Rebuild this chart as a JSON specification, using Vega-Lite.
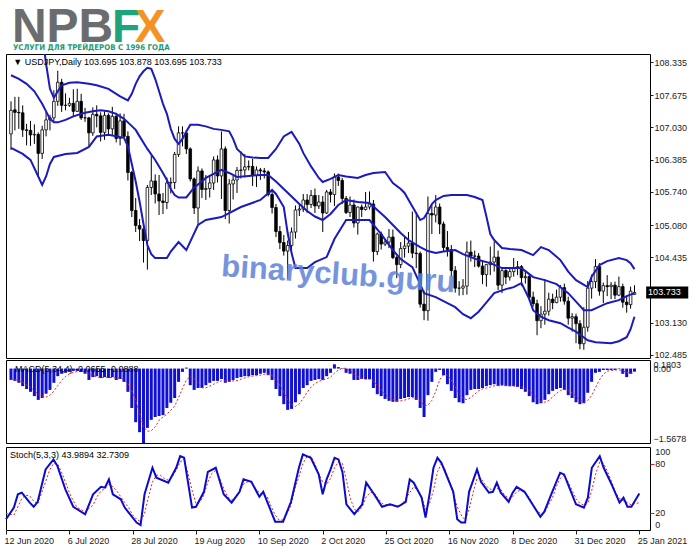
{
"$schema": "https://vega.github.io/schema/vega-lite/v6.json",
"padding": {"left": 1, "top": 0, "right": 0, "bottom": 0},
"background": "white",
"bounds": "flush",
"config": {"font": "Liberation Sans", "view": {"stroke": "black", "strokeWidth": 1}, "axis": {"labelOverlap": false, "labelBound": false}},
"datasets": {
"candles": [
{"i":0,"o":106.90,"h":107.55,"l":106.58,"c":107.37},{"i":1,"o":107.38,"h":107.64,"l":106.97,"c":107.33},{"i":2,"o":107.33,"h":107.64,"l":107.00,"c":107.32},{"i":3,"o":107.32,"h":107.47,"l":106.84,"c":106.98},{"i":4,"o":106.98,"h":107.10,"l":106.67,"c":106.97},{"i":5,"o":106.97,"h":107.16,"l":106.66,"c":106.88},{"i":6,"o":106.88,"h":107.09,"l":106.70,"c":106.89},{"i":7,"o":106.89,"h":106.93,"l":106.07,"c":106.51},{"i":8,"o":106.51,"h":107.06,"l":106.40,"c":106.98},{"i":9,"o":106.98,"h":107.34,"l":106.85,"c":107.18},
{"i":10,"o":107.18,"h":107.28,"l":106.97,"c":107.22},{"i":11,"o":107.22,"h":107.77,"l":107.15,"c":107.55},{"i":12,"o":107.55,"h":108.16,"l":107.46,"c":107.93},{"i":13,"o":107.93,"h":108.00,"l":107.34,"c":107.47},{"i":14,"o":107.47,"h":107.71,"l":107.37,"c":107.47},{"i":15,"o":107.47,"h":107.62,"l":107.44,"c":107.51},{"i":16,"o":107.51,"h":107.79,"l":107.24,"c":107.35},{"i":17,"o":107.35,"h":107.80,"l":107.34,"c":107.55},{"i":18,"o":107.55,"h":107.70,"l":107.18,"c":107.22},{"i":19,"o":107.22,"h":107.42,"l":107.14,"c":107.22},
{"i":20,"o":107.22,"h":107.24,"l":106.65,"c":106.92},{"i":21,"o":106.92,"h":107.43,"l":106.86,"c":107.29},{"i":22,"o":107.29,"h":107.47,"l":107.03,"c":107.26},{"i":23,"o":107.26,"h":107.33,"l":106.75,"c":106.93},{"i":24,"o":106.93,"h":107.35,"l":106.78,"c":107.27},{"i":25,"o":107.27,"h":107.31,"l":106.86,"c":107.00},{"i":26,"o":107.00,"h":107.44,"l":106.87,"c":107.25},{"i":27,"o":107.25,"h":107.32,"l":106.73,"c":106.81},{"i":28,"o":106.81,"h":107.31,"l":106.67,"c":107.16},{"i":29,"o":107.16,"h":107.30,"l":106.83,"c":106.85},
{"i":30,"o":106.85,"h":106.95,"l":105.97,"c":106.13},{"i":31,"o":106.13,"h":106.16,"l":105.24,"c":105.37},{"i":32,"o":105.37,"h":105.62,"l":104.94,"c":105.07},{"i":33,"o":105.07,"h":105.20,"l":104.76,"c":105.00},{"i":34,"o":105.00,"h":105.06,"l":104.33,"c":104.77},{"i":35,"o":104.77,"h":105.88,"l":104.19,"c":105.83},{"i":36,"o":105.83,"h":106.47,"l":105.68,"c":105.96},{"i":37,"o":105.96,"h":106.09,"l":105.51,"c":105.70},{"i":38,"o":105.70,"h":106.08,"l":105.28,"c":105.56},{"i":39,"o":105.56,"h":105.72,"l":105.30,"c":105.53},
{"i":40,"o":105.53,"h":106.03,"l":105.40,"c":105.92},{"i":41,"o":105.92,"h":106.03,"l":105.71,"c":105.93},{"i":42,"o":105.93,"h":106.54,"l":105.80,"c":106.49},{"i":43,"o":106.49,"h":107.05,"l":106.44,"c":106.92},{"i":44,"o":106.92,"h":107.05,"l":106.65,"c":106.92},{"i":45,"o":106.92,"h":106.98,"l":106.50,"c":106.60},{"i":46,"o":106.60,"h":106.63,"l":105.95,"c":106.00},{"i":47,"o":106.00,"h":106.03,"l":105.30,"c":105.42},{"i":48,"o":105.42,"h":106.25,"l":105.10,"c":106.16},{"i":49,"o":106.16,"h":106.21,"l":105.62,"c":105.79},
{"i":50,"o":105.79,"h":106.08,"l":105.58,"c":105.81},{"i":51,"o":105.81,"h":106.06,"l":105.63,"c":105.92},{"i":52,"o":105.92,"h":106.45,"l":105.78,"c":106.38},{"i":53,"o":106.38,"h":106.47,"l":105.93,"c":106.06},{"i":54,"o":106.06,"h":106.95,"l":105.60,"c":106.60},{"i":55,"o":106.60,"h":106.65,"l":105.20,"c":105.37},{"i":56,"o":105.37,"h":106.00,"l":105.11,"c":105.90},{"i":57,"o":105.90,"h":106.07,"l":105.59,"c":105.98},{"i":58,"o":105.98,"h":106.24,"l":105.72,"c":106.17},{"i":59,"o":106.17,"h":106.55,"l":106.01,"c":106.18},
{"i":60,"o":106.18,"h":106.50,"l":106.03,"c":106.24},{"i":61,"o":106.24,"h":106.37,"l":106.17,"c":106.25},{"i":62,"o":106.25,"h":106.40,"l":105.86,"c":106.07},{"i":63,"o":106.07,"h":106.25,"l":105.84,"c":106.18},{"i":64,"o":106.18,"h":106.22,"l":105.98,"c":106.16},{"i":65,"o":106.16,"h":106.22,"l":106.01,"c":106.14},{"i":66,"o":106.14,"h":106.17,"l":105.65,"c":105.69},{"i":67,"o":105.69,"h":105.79,"l":105.31,"c":105.43},{"i":68,"o":105.43,"h":105.50,"l":104.84,"c":104.95},{"i":69,"o":104.95,"h":105.06,"l":104.60,"c":104.73},
{"i":70,"o":104.73,"h":104.88,"l":104.47,"c":104.56},{"i":71,"o":104.56,"h":104.77,"l":104.00,"c":104.67},{"i":72,"o":104.67,"h":105.03,"l":104.49,"c":104.94},{"i":73,"o":104.94,"h":105.47,"l":104.81,"c":105.38},{"i":74,"o":105.38,"h":105.49,"l":105.26,"c":105.40},{"i":75,"o":105.40,"h":105.70,"l":105.34,"c":105.58},{"i":76,"o":105.58,"h":105.70,"l":105.32,"c":105.49},{"i":77,"o":105.49,"h":105.78,"l":105.42,"c":105.67},{"i":78,"o":105.67,"h":105.81,"l":105.32,"c":105.46},{"i":79,"o":105.46,"h":105.68,"l":105.40,"c":105.54},
{"i":80,"o":105.54,"h":105.66,"l":104.94,"c":105.32},{"i":81,"o":105.32,"h":105.78,"l":105.30,"c":105.74},{"i":82,"o":105.74,"h":105.80,"l":105.53,"c":105.69},{"i":83,"o":105.69,"h":106.11,"l":105.46,"c":106.04},{"i":84,"o":106.04,"h":106.11,"l":105.86,"c":105.97},{"i":85,"o":105.97,"h":106.02,"l":105.50,"c":105.61},{"i":86,"o":105.61,"h":105.66,"l":105.30,"c":105.33},{"i":87,"o":105.33,"h":105.65,"l":105.24,"c":105.48},{"i":88,"o":105.48,"h":105.59,"l":105.03,"c":105.12},{"i":89,"o":105.12,"h":105.45,"l":104.89,"c":105.44},
{"i":90,"o":105.44,"h":105.49,"l":105.24,"c":105.39},{"i":91,"o":105.39,"h":105.74,"l":105.37,"c":105.44},{"i":92,"o":105.44,"h":105.75,"l":105.39,"c":105.50},{"i":93,"o":105.50,"h":105.58,"l":104.35,"c":104.55},{"i":94,"o":104.55,"h":104.93,"l":104.48,"c":104.90},{"i":95,"o":104.90,"h":104.95,"l":104.59,"c":104.70},{"i":96,"o":104.70,"h":104.78,"l":104.66,"c":104.74},{"i":97,"o":104.74,"h":105.00,"l":104.62,"c":104.84},{"i":98,"o":104.84,"h":104.99,"l":104.40,"c":104.43},{"i":99,"o":104.43,"h":104.47,"l":104.02,"c":104.29},
{"i":100,"o":104.29,"h":104.74,"l":104.22,"c":104.61},{"i":101,"o":104.61,"h":104.86,"l":104.43,"c":104.66},{"i":102,"o":104.66,"h":104.94,"l":104.52,"c":104.72},{"i":103,"o":104.72,"h":105.35,"l":104.42,"c":104.52},{"i":104,"o":104.52,"h":105.34,"l":104.22,"c":104.51},{"i":105,"o":104.51,"h":104.55,"l":103.43,"c":103.50},{"i":106,"o":103.50,"h":103.77,"l":103.18,"c":103.37},{"i":107,"o":103.37,"h":105.65,"l":103.17,"c":105.31},{"i":108,"o":105.31,"h":105.48,"l":104.90,"c":105.28},{"i":109,"o":105.28,"h":105.68,"l":105.13,"c":105.44},
{"i":110,"o":105.44,"h":105.51,"l":104.90,"c":105.10},{"i":111,"o":105.10,"h":105.15,"l":104.55,"c":104.63},{"i":112,"o":104.63,"h":104.96,"l":104.45,"c":104.59},{"i":113,"o":104.59,"h":104.68,"l":104.06,"c":104.17},{"i":114,"o":104.17,"h":104.26,"l":103.73,"c":103.82},{"i":115,"o":103.82,"h":103.96,"l":103.67,"c":103.82},{"i":116,"o":103.82,"h":104.00,"l":103.68,"c":103.86},{"i":117,"o":103.86,"h":104.75,"l":103.69,"c":104.54},{"i":118,"o":104.54,"h":104.77,"l":104.35,"c":104.46},{"i":119,"o":104.46,"h":104.57,"l":104.24,"c":104.46},
{"i":120,"o":104.46,"h":104.52,"l":104.23,"c":104.26},{"i":121,"o":104.26,"h":104.35,"l":103.90,"c":104.09},{"i":122,"o":104.09,"h":104.29,"l":103.85,"c":104.29},{"i":123,"o":104.29,"h":104.65,"l":104.08,"c":104.34},{"i":124,"o":104.34,"h":104.75,"l":104.15,"c":104.44},{"i":125,"o":104.44,"h":104.57,"l":103.78,"c":103.88},{"i":126,"o":103.88,"h":104.23,"l":103.72,"c":104.17},{"i":127,"o":104.17,"h":104.20,"l":103.90,"c":104.04},{"i":128,"o":104.04,"h":104.24,"l":103.97,"c":104.15},{"i":129,"o":104.15,"h":104.42,"l":104.05,"c":104.22},
{"i":130,"o":104.22,"h":104.36,"l":104.08,"c":104.25},{"i":131,"o":104.25,"h":104.28,"l":103.86,"c":104.03},{"i":132,"o":104.03,"h":104.16,"l":103.91,"c":104.05},{"i":133,"o":104.05,"h":104.12,"l":103.57,"c":103.64},{"i":134,"o":103.64,"h":103.75,"l":103.45,"c":103.51},{"i":135,"o":103.51,"h":103.59,"l":102.88,"c":103.17},{"i":136,"o":103.17,"h":103.46,"l":103.02,"c":103.30},{"i":137,"o":103.30,"h":104.00,"l":103.09,"c":103.36},{"i":138,"o":103.36,"h":103.73,"l":103.27,"c":103.60},{"i":139,"o":103.60,"h":103.71,"l":103.40,"c":103.53},
{"i":140,"o":103.53,"h":103.79,"l":103.52,"c":103.64},{"i":141,"o":103.64,"h":103.88,"l":103.55,"c":103.83},{"i":142,"o":103.83,"h":103.91,"l":103.49,"c":103.56},{"i":143,"o":103.56,"h":103.65,"l":103.09,"c":103.22},{"i":144,"o":103.22,"h":103.32,"l":102.95,"c":103.25},{"i":145,"o":103.25,"h":103.31,"l":102.72,"c":103.11},{"i":146,"o":103.11,"h":103.18,"l":102.60,"c":102.71},{"i":147,"o":102.71,"h":103.44,"l":102.59,"c":103.04},{"i":148,"o":103.04,"h":103.96,"l":102.95,"c":103.82},{"i":149,"o":103.82,"h":104.09,"l":103.61,"c":103.95},
{"i":150,"o":103.95,"h":104.40,"l":103.82,"c":104.25},{"i":151,"o":104.25,"h":104.32,"l":103.67,"c":103.76},{"i":152,"o":103.76,"h":103.93,"l":103.52,"c":103.87},{"i":153,"o":103.87,"h":104.08,"l":103.66,"c":103.85},{"i":154,"o":103.85,"h":103.94,"l":103.60,"c":103.88},{"i":155,"o":103.88,"h":103.95,"l":103.60,"c":103.68},{"i":156,"o":103.68,"h":104.05,"l":103.66,"c":103.85},{"i":157,"o":103.85,"h":103.91,"l":103.43,"c":103.54},{"i":158,"o":103.54,"h":103.66,"l":103.33,"c":103.49},{"i":159,"o":103.49,"h":103.85,"l":103.41,"c":103.76},
{"i":160,"o":103.695,"h":103.878,"l":103.695,"c":103.733}
],
"bands": [
{"b":"u","i":0,"p":109.6},{"b":"u","i":6,"p":109.5},{"b":"u","i":8,"p":108.9},{"b":"u","i":9,"p":108.3},{"b":"u","i":10,"p":107.8},{"b":"u","i":11,"p":107.62},{"b":"u","i":12,"p":107.75},{"b":"u","i":13,"p":107.87},{"b":"u","i":15,"p":107.92},{"b":"u","i":17,"p":107.93},{"b":"u","i":20,"p":107.9},{"b":"u","i":22,"p":107.87},{"b":"u","i":25,"p":107.8},{"b":"u","i":28,"p":107.65},{"b":"u","i":30,"p":107.57},{"b":"u","i":31,"p":107.7},{"b":"u","i":32,"p":107.9},{"b":"u","i":33,"p":108.05},{"b":"u","i":34,"p":108.15},{"b":"u","i":35,"p":108.22},{"b":"u","i":36,"p":108.2},{"b":"u","i":37,"p":108.0},{"b":"u","i":38,"p":107.75},{"b":"u","i":39,"p":107.5},{"b":"u","i":40,"p":107.3},{"b":"u","i":41,"p":107.0},{"b":"u","i":42,"p":106.8},{"b":"u","i":43,"p":106.7},{"b":"u","i":44,"p":106.8},{"b":"u","i":45,"p":106.95},{"b":"u","i":46,"p":107.08},{"b":"u","i":48,"p":107.08},{"b":"u","i":50,"p":107.05},{"b":"u","i":52,"p":107.0},{"b":"u","i":54,"p":106.98},{"b":"u","i":56,"p":106.95},{"b":"u","i":57,"p":106.8},{"b":"u","i":58,"p":106.6},{"b":"u","i":60,"p":106.45},{"b":"u","i":62,"p":106.43},{"b":"u","i":64,"p":106.42},{"b":"u","i":66,"p":106.42},{"b":"u","i":68,"p":106.6},{"b":"u","i":70,"p":106.85},{"b":"u","i":72,"p":106.94},{"b":"u","i":74,"p":106.7},{"b":"u","i":75,"p":106.52},{"b":"u","i":77,"p":106.25},{"b":"u","i":79,"p":106.02},{"b":"u","i":80,"p":105.94},{"b":"u","i":82,"p":106.0},{"b":"u","i":84,"p":106.08},{"b":"u","i":86,"p":106.05},{"b":"u","i":89,"p":106.02},{"b":"u","i":91,"p":106.08},{"b":"u","i":93,"p":106.12},{"b":"u","i":96,"p":106.14},{"b":"u","i":98,"p":105.92},{"b":"u","i":100,"p":105.8},{"b":"u","i":101,"p":105.72},{"b":"u","i":103,"p":105.45},{"b":"u","i":105,"p":105.18},{"b":"u","i":106,"p":105.22},{"b":"u","i":107,"p":105.35},{"b":"u","i":108,"p":105.5},{"b":"u","i":109,"p":105.58},{"b":"u","i":111,"p":105.66},{"b":"u","i":113,"p":105.68},{"b":"u","i":117,"p":105.68},{"b":"u","i":119,"p":105.64},{"b":"u","i":121,"p":105.58},{"b":"u","i":122,"p":105.25},{"b":"u","i":123,"p":104.9},{"b":"u","i":124,"p":104.78},{"b":"u","i":126,"p":104.62},{"b":"u","i":128,"p":104.6},{"b":"u","i":131,"p":104.58},{"b":"u","i":134,"p":104.48},{"b":"u","i":136,"p":104.64},{"b":"u","i":138,"p":104.58},{"b":"u","i":141,"p":104.38},{"b":"u","i":143,"p":104.15},{"b":"u","i":145,"p":103.98},{"b":"u","i":148,"p":103.84},{"b":"u","i":149,"p":104.05},{"b":"u","i":151,"p":104.28},{"b":"u","i":153,"p":104.36},{"b":"u","i":156,"p":104.42},{"b":"u","i":158,"p":104.38},{"b":"u","i":159,"p":104.32},{"b":"u","i":160,"p":104.2},
{"b":"m","i":0,"p":108.07},{"b":"m","i":2,"p":108.0},{"b":"m","i":4,"p":107.9},{"b":"m","i":6,"p":107.75},{"b":"m","i":8,"p":107.5},{"b":"m","i":9,"p":107.35},{"b":"m","i":10,"p":107.2},{"b":"m","i":11,"p":107.13},{"b":"m","i":12,"p":107.13},{"b":"m","i":14,"p":107.18},{"b":"m","i":16,"p":107.25},{"b":"m","i":19,"p":107.32},{"b":"m","i":21,"p":107.35},{"b":"m","i":23,"p":107.37},{"b":"m","i":25,"p":107.35},{"b":"m","i":27,"p":107.3},{"b":"m","i":29,"p":107.2},{"b":"m","i":30,"p":107.13},{"b":"m","i":32,"p":106.98},{"b":"m","i":33,"p":106.85},{"b":"m","i":35,"p":106.6},{"b":"m","i":37,"p":106.38},{"b":"m","i":39,"p":106.12},{"b":"m","i":40,"p":105.98},{"b":"m","i":41,"p":105.8},{"b":"m","i":42,"p":105.68},{"b":"m","i":43,"p":105.63},{"b":"m","i":45,"p":105.63},{"b":"m","i":47,"p":105.83},{"b":"m","i":49,"p":105.95},{"b":"m","i":50,"p":106.02},{"b":"m","i":52,"p":106.1},{"b":"m","i":54,"p":106.18},{"b":"m","i":56,"p":106.12},{"b":"m","i":58,"p":106.04},{"b":"m","i":61,"p":106.06},{"b":"m","i":64,"p":106.08},{"b":"m","i":66,"p":106.08},{"b":"m","i":68,"p":105.95},{"b":"m","i":70,"p":105.8},{"b":"m","i":72,"p":105.65},{"b":"m","i":74,"p":105.5},{"b":"m","i":76,"p":105.36},{"b":"m","i":78,"p":105.25},{"b":"m","i":80,"p":105.18},{"b":"m","i":82,"p":105.3},{"b":"m","i":84,"p":105.48},{"b":"m","i":86,"p":105.58},{"b":"m","i":89,"p":105.54},{"b":"m","i":92,"p":105.52},{"b":"m","i":94,"p":105.38},{"b":"m","i":96,"p":105.24},{"b":"m","i":98,"p":105.08},{"b":"m","i":100,"p":104.92},{"b":"m","i":102,"p":104.78},{"b":"m","i":105,"p":104.64},{"b":"m","i":107,"p":104.56},{"b":"m","i":109,"p":104.52},{"b":"m","i":111,"p":104.55},{"b":"m","i":114,"p":104.58},{"b":"m","i":116,"p":104.5},{"b":"m","i":118,"p":104.44},{"b":"m","i":120,"p":104.38},{"b":"m","i":123,"p":104.32},{"b":"m","i":126,"p":104.22},{"b":"m","i":131,"p":104.22},{"b":"m","i":134,"p":104.04},{"b":"m","i":137,"p":103.98},{"b":"m","i":140,"p":103.9},{"b":"m","i":143,"p":103.72},{"b":"m","i":145,"p":103.55},{"b":"m","i":147,"p":103.38},{"b":"m","i":149,"p":103.38},{"b":"m","i":151,"p":103.45},{"b":"m","i":153,"p":103.52},{"b":"m","i":156,"p":103.58},{"b":"m","i":158,"p":103.66},{"b":"m","i":160,"p":103.72},
{"b":"l","i":0,"p":106.62},{"b":"l","i":3,"p":106.5},{"b":"l","i":5,"p":106.38},{"b":"l","i":7,"p":106.05},{"b":"l","i":8,"p":105.88},{"b":"l","i":9,"p":106.05},{"b":"l","i":10,"p":106.3},{"b":"l","i":11,"p":106.44},{"b":"l","i":14,"p":106.5},{"b":"l","i":17,"p":106.52},{"b":"l","i":20,"p":106.64},{"b":"l","i":22,"p":106.85},{"b":"l","i":25,"p":106.88},{"b":"l","i":29,"p":106.82},{"b":"l","i":30,"p":106.65},{"b":"l","i":31,"p":106.3},{"b":"l","i":32,"p":105.95},{"b":"l","i":33,"p":105.55},{"b":"l","i":34,"p":105.1},{"b":"l","i":35,"p":104.68},{"b":"l","i":36,"p":104.5},{"b":"l","i":37,"p":104.42},{"b":"l","i":40,"p":104.42},{"b":"l","i":41,"p":104.55},{"b":"l","i":43,"p":104.74},{"b":"l","i":45,"p":104.58},{"b":"l","i":46,"p":104.75},{"b":"l","i":48,"p":105.08},{"b":"l","i":50,"p":105.18},{"b":"l","i":54,"p":105.24},{"b":"l","i":59,"p":105.44},{"b":"l","i":64,"p":105.58},{"b":"l","i":67,"p":105.78},{"b":"l","i":68,"p":105.7},{"b":"l","i":70,"p":105.44},{"b":"l","i":71,"p":104.92},{"b":"l","i":72,"p":104.52},{"b":"l","i":73,"p":104.22},{"b":"l","i":76,"p":104.22},{"b":"l","i":78,"p":104.34},{"b":"l","i":81,"p":104.44},{"b":"l","i":83,"p":104.8},{"b":"l","i":86,"p":105.18},{"b":"l","i":92,"p":105.18},{"b":"l","i":95,"p":104.9},{"b":"l","i":98,"p":104.58},{"b":"l","i":100,"p":104.4},{"b":"l","i":103,"p":104.24},{"b":"l","i":105,"p":103.9},{"b":"l","i":106,"p":103.72},{"b":"l","i":109,"p":103.64},{"b":"l","i":112,"p":103.52},{"b":"l","i":114,"p":103.44},{"b":"l","i":116,"p":103.3},{"b":"l","i":118,"p":103.22},{"b":"l","i":120,"p":103.35},{"b":"l","i":121,"p":103.44},{"b":"l","i":124,"p":103.72},{"b":"l","i":127,"p":103.8},{"b":"l","i":129,"p":103.84},{"b":"l","i":131,"p":103.92},{"b":"l","i":133,"p":103.6},{"b":"l","i":134,"p":103.38},{"b":"l","i":136,"p":103.25},{"b":"l","i":138,"p":103.18},{"b":"l","i":141,"p":103.12},{"b":"l","i":143,"p":103.03},{"b":"l","i":145,"p":102.95},{"b":"l","i":148,"p":102.78},{"b":"l","i":150,"p":102.74},{"b":"l","i":154,"p":102.72},{"b":"l","i":156,"p":102.76},{"b":"l","i":158,"p":102.84},{"b":"l","i":159,"p":103.0},{"b":"l","i":160,"p":103.25}
],
"macd": [
{"i":0,"v":-0.24},{"i":1,"v":-0.26},{"i":2,"v":-0.30},{"i":3,"v":-0.37},{"i":4,"v":-0.43},{"i":5,"v":-0.49},{"i":6,"v":-0.58},{"i":7,"v":-0.66},{"i":8,"v":-0.62},{"i":9,"v":-0.53},{"i":10,"v":-0.45},{"i":11,"v":-0.30},{"i":12,"v":-0.16},{"i":13,"v":-0.11},{"i":14,"v":-0.09},{"i":15,"v":-0.07},{"i":16,"v":-0.05},{"i":17,"v":-0.05},{"i":18,"v":-0.07},{"i":19,"v":-0.11},{"i":20,"v":-0.24},{"i":21,"v":-0.18},{"i":22,"v":-0.16},{"i":23,"v":-0.20},{"i":24,"v":-0.18},{"i":25,"v":-0.20},{"i":26,"v":-0.18},{"i":27,"v":-0.24},{"i":28,"v":-0.22},{"i":29,"v":-0.28},{"i":30,"v":-0.49},{"i":31,"v":-0.83},{"i":32,"v":-1.13},{"i":33,"v":-1.34},{"i":34,"v":-1.5678},{"i":35,"v":-1.25},{"i":36,"v":-1.08},{"i":37,"v":-1.02},{"i":38,"v":-1.00},{"i":39,"v":-0.98},{"i":40,"v":-0.83},{"i":41,"v":-0.72},{"i":42,"v":-0.62},{"i":43,"v":-0.28},{"i":44,"v":-0.07},{"i":45,"v":0.02},{"i":46,"v":-0.35},{"i":47,"v":-0.45},{"i":48,"v":-0.41},{"i":49,"v":-0.41},{"i":50,"v":-0.35},{"i":51,"v":-0.30},{"i":52,"v":-0.26},{"i":53,"v":-0.26},{"i":54,"v":-0.22},{"i":55,"v":-0.30},{"i":56,"v":-0.28},{"i":57,"v":-0.24},{"i":58,"v":-0.20},{"i":59,"v":-0.18},{"i":60,"v":-0.16},{"i":61,"v":-0.16},{"i":62,"v":-0.14},{"i":63,"v":-0.14},{"i":64,"v":-0.11},{"i":65,"v":-0.09},{"i":66,"v":-0.14},{"i":67,"v":-0.24},{"i":68,"v":-0.43},{"i":69,"v":-0.58},{"i":70,"v":-0.75},{"i":71,"v":-0.87},{"i":72,"v":-0.85},{"i":73,"v":-0.71},{"i":74,"v":-0.54},{"i":75,"v":-0.41},{"i":76,"v":-0.35},{"i":77,"v":-0.26},{"i":78,"v":-0.24},{"i":79,"v":-0.22},{"i":80,"v":-0.24},{"i":81,"v":-0.16},{"i":82,"v":-0.09},{"i":83,"v":0.09},{"i":84,"v":0.03},{"i":85,"v":-0.01},{"i":86,"v":-0.09},{"i":87,"v":-0.11},{"i":88,"v":-0.24},{"i":89,"v":-0.24},{"i":90,"v":-0.22},{"i":91,"v":-0.22},{"i":92,"v":-0.22},{"i":93,"v":-0.41},{"i":94,"v":-0.54},{"i":95,"v":-0.58},{"i":96,"v":-0.64},{"i":97,"v":-0.68},{"i":98,"v":-0.70},{"i":99,"v":-0.70},{"i":100,"v":-0.64},{"i":101,"v":-0.62},{"i":102,"v":-0.60},{"i":103,"v":-0.60},{"i":104,"v":-0.66},{"i":105,"v":-0.83},{"i":106,"v":-1.02},{"i":107,"v":-0.56},{"i":108,"v":-0.28},{"i":109,"v":-0.07},{"i":110,"v":-0.03},{"i":111,"v":-0.14},{"i":112,"v":-0.33},{"i":113,"v":-0.47},{"i":114,"v":-0.62},{"i":115,"v":-0.71},{"i":116,"v":-0.73},{"i":117,"v":-0.56},{"i":118,"v":-0.45},{"i":119,"v":-0.43},{"i":120,"v":-0.43},{"i":121,"v":-0.41},{"i":122,"v":-0.37},{"i":123,"v":-0.35},{"i":124,"v":-0.33},{"i":125,"v":-0.37},{"i":126,"v":-0.35},{"i":127,"v":-0.37},{"i":128,"v":-0.37},{"i":129,"v":-0.37},{"i":130,"v":-0.39},{"i":131,"v":-0.43},{"i":132,"v":-0.49},{"i":133,"v":-0.58},{"i":134,"v":-0.71},{"i":135,"v":-0.75},{"i":136,"v":-0.73},{"i":137,"v":-0.66},{"i":138,"v":-0.54},{"i":139,"v":-0.47},{"i":140,"v":-0.43},{"i":141,"v":-0.41},{"i":142,"v":-0.45},{"i":143,"v":-0.56},{"i":144,"v":-0.62},{"i":145,"v":-0.71},{"i":146,"v":-0.75},{"i":147,"v":-0.73},{"i":148,"v":-0.51},{"i":149,"v":-0.28},{"i":150,"v":-0.09},{"i":151,"v":-0.07},{"i":152,"v":-0.03},{"i":153,"v":-0.03},{"i":154,"v":-0.03},{"i":155,"v":-0.03},{"i":156,"v":-0.01},{"i":157,"v":-0.11},{"i":158,"v":-0.18},{"i":159,"v":-0.11},{"i":160,"v":-0.0655}
],
"signal": [
{"i":0,"s":-0.22},{"i":1,"s":-0.23},{"i":2,"s":-0.26},{"i":3,"s":-0.29},{"i":4,"s":-0.34},{"i":5,"s":-0.40},{"i":6,"s":-0.47},{"i":7,"s":-0.54},{"i":8,"s":-0.59},{"i":9,"s":-0.60},{"i":10,"s":-0.565},{"i":11,"s":-0.475},{"i":12,"s":-0.36},{"i":13,"s":-0.255},{"i":14,"s":-0.165},{"i":15,"s":-0.11},{"i":16,"s":-0.08},{"i":17,"s":-0.065},{"i":18,"s":-0.06},{"i":19,"s":-0.07},{"i":20,"s":-0.12},{"i":21,"s":-0.15},{"i":22,"s":-0.17},{"i":23,"s":-0.195},{"i":24,"s":-0.18},{"i":25,"s":-0.185},{"i":26,"s":-0.19},{"i":27,"s":-0.20},{"i":28,"s":-0.21},{"i":29,"s":-0.23},{"i":30,"s":-0.31},{"i":31,"s":-0.455},{"i":32,"s":-0.68},{"i":33,"s":-0.95},{"i":34,"s":-1.22},{"i":35,"s":-1.32},{"i":36,"s":-1.31},{"i":37,"s":-1.23},{"i":38,"s":-1.09},{"i":39,"s":-1.02},{"i":40,"s":-0.96},{"i":41,"s":-0.88},{"i":42,"s":-0.79},{"i":43,"s":-0.61},{"i":44,"s":-0.42},{"i":45,"s":-0.24},{"i":46,"s":-0.17},{"i":47,"s":-0.21},{"i":48,"s":-0.30},{"i":49,"s":-0.405},{"i":50,"s":-0.405},{"i":51,"s":-0.37},{"i":52,"s":-0.33},{"i":53,"s":-0.29},{"i":54,"s":-0.26},{"i":55,"s":-0.26},{"i":56,"s":-0.265},{"i":57,"s":-0.26},{"i":58,"s":-0.255},{"i":59,"s":-0.225},{"i":60,"s":-0.195},{"i":61,"s":-0.175},{"i":62,"s":-0.16},{"i":63,"s":-0.15},{"i":64,"s":-0.14},{"i":65,"s":-0.12},{"i":66,"s":-0.12},{"i":67,"s":-0.145},{"i":68,"s":-0.225},{"i":69,"s":-0.35},{"i":70,"s":-0.50},{"i":71,"s":-0.66},{"i":72,"s":-0.76},{"i":73,"s":-0.795},{"i":74,"s":-0.74},{"i":75,"s":-0.63},{"i":76,"s":-0.50},{"i":77,"s":-0.39},{"i":78,"s":-0.315},{"i":79,"s":-0.27},{"i":80,"s":-0.24},{"i":81,"s":-0.215},{"i":82,"s":-0.18},{"i":83,"s":-0.10},{"i":84,"s":-0.03},{"i":85,"s":0.005},{"i":86,"s":0.005},{"i":87,"s":-0.05},{"i":88,"s":-0.11},{"i":89,"s":-0.17},{"i":90,"s":-0.20},{"i":91,"s":-0.23},{"i":92,"s":-0.225},{"i":93,"s":-0.27},{"i":94,"s":-0.35},{"i":95,"s":-0.44},{"i":96,"s":-0.54},{"i":97,"s":-0.61},{"i":98,"s":-0.65},{"i":99,"s":-0.68},{"i":100,"s":-0.68},{"i":101,"s":-0.665},{"i":102,"s":-0.64},{"i":103,"s":-0.615},{"i":104,"s":-0.62},{"i":105,"s":-0.67},{"i":106,"s":-0.78},{"i":107,"s":-0.77},{"i":108,"s":-0.67},{"i":109,"s":-0.48},{"i":110,"s":-0.235},{"i":111,"s":-0.13},{"i":112,"s":-0.14},{"i":113,"s":-0.24},{"i":114,"s":-0.39},{"i":115,"s":-0.53},{"i":116,"s":-0.63},{"i":117,"s":-0.655},{"i":118,"s":-0.61},{"i":119,"s":-0.54},{"i":120,"s":-0.47},{"i":121,"s":-0.43},{"i":122,"s":-0.41},{"i":123,"s":-0.39},{"i":124,"s":-0.365},{"i":125,"s":-0.355},{"i":126,"s":-0.35},{"i":127,"s":-0.355},{"i":128,"s":-0.365},{"i":129,"s":-0.365},{"i":130,"s":-0.375},{"i":131,"s":-0.39},{"i":132,"s":-0.42},{"i":133,"s":-0.47},{"i":134,"s":-0.55},{"i":135,"s":-0.63},{"i":136,"s":-0.69},{"i":137,"s":-0.71},{"i":138,"s":-0.67},{"i":139,"s":-0.60},{"i":140,"s":-0.525},{"i":141,"s":-0.46},{"i":142,"s":-0.44},{"i":143,"s":-0.46},{"i":144,"s":-0.51},{"i":145,"s":-0.585},{"i":146,"s":-0.66},{"i":147,"s":-0.70},{"i":148,"s":-0.675},{"i":149,"s":-0.57},{"i":150,"s":-0.40},{"i":151,"s":-0.24},{"i":152,"s":-0.12},{"i":153,"s":-0.055},{"i":154,"s":-0.04},{"i":155,"s":-0.03},{"i":156,"s":-0.025},{"i":157,"s":-0.045},{"i":158,"s":-0.08},{"i":159,"s":-0.10},{"i":160,"s":-0.0888}
],
"stochK": [
{"i":0,"v":13},{"i":2,"v":27},{"i":3,"v":43},{"i":4,"v":45},{"i":6,"v":33},{"i":7,"v":28},{"i":8,"v":34},{"i":10,"v":73},{"i":12,"v":85},{"i":13,"v":77},{"i":15,"v":49},{"i":17,"v":28},{"i":20,"v":19},{"i":22,"v":43},{"i":24,"v":52},{"i":25,"v":51},{"i":26,"v":61},{"i":27,"v":43},{"i":29,"v":37},{"i":30,"v":27},{"i":31,"v":21},{"i":33,"v":9},{"i":34,"v":6},{"i":35,"v":43},{"i":37,"v":75},{"i":38,"v":63},{"i":41,"v":57},{"i":43,"v":75},{"i":44,"v":89},{"i":45,"v":87},{"i":47,"v":27},{"i":48,"v":28},{"i":50,"v":46},{"i":51,"v":70},{"i":53,"v":75},{"i":55,"v":43},{"i":57,"v":33},{"i":59,"v":46},{"i":60,"v":61},{"i":62,"v":58},{"i":64,"v":40},{"i":65,"v":46},{"i":66,"v":34},{"i":68,"v":10},{"i":70,"v":10},{"i":72,"v":34},{"i":74,"v":75},{"i":75,"v":91},{"i":76,"v":89},{"i":77,"v":87},{"i":79,"v":67},{"i":80,"v":43},{"i":81,"v":61},{"i":82,"v":73},{"i":83,"v":87},{"i":84,"v":85},{"i":85,"v":70},{"i":86,"v":31},{"i":88,"v":19},{"i":90,"v":31},{"i":91,"v":57},{"i":93,"v":43},{"i":95,"v":28},{"i":97,"v":31},{"i":99,"v":28},{"i":101,"v":34},{"i":102,"v":61},{"i":103,"v":57},{"i":105,"v":39},{"i":106,"v":15},{"i":107,"v":43},{"i":108,"v":75},{"i":109,"v":87},{"i":110,"v":81},{"i":113,"v":46},{"i":114,"v":13},{"i":115,"v":9},{"i":116,"v":9},{"i":117,"v":46},{"i":119,"v":73},{"i":120,"v":58},{"i":122,"v":45},{"i":123,"v":46},{"i":124,"v":57},{"i":125,"v":45},{"i":127,"v":34},{"i":128,"v":45},{"i":129,"v":52},{"i":131,"v":46},{"i":133,"v":31},{"i":135,"v":16},{"i":136,"v":22},{"i":138,"v":46},{"i":140,"v":69},{"i":141,"v":67},{"i":143,"v":43},{"i":144,"v":31},{"i":146,"v":27},{"i":147,"v":39},{"i":148,"v":75},{"i":150,"v":89},{"i":151,"v":75},{"i":153,"v":55},{"i":155,"v":33},{"i":156,"v":39},{"i":157,"v":28},{"i":158,"v":28},{"i":160,"v":43.9894}
],
"stochD": [
{"i":0,"v":20},{"i":2,"v":18},{"i":3,"v":28},{"i":4,"v":38},{"i":5,"v":42},{"i":6,"v":41},{"i":7,"v":35},{"i":8,"v":31},{"i":9,"v":45},{"i":10,"v":58},{"i":11,"v":72},{"i":12,"v":80},{"i":13,"v":80},{"i":14,"v":70},{"i":15,"v":58},{"i":16,"v":45},{"i":17,"v":35},{"i":18,"v":27},{"i":20,"v":22},{"i":22,"v":30},{"i":23,"v":40},{"i":24,"v":47},{"i":25,"v":50},{"i":26,"v":55},{"i":27,"v":52},{"i":28,"v":47},{"i":29,"v":40},{"i":30,"v":33},{"i":31,"v":27},{"i":32,"v":18},{"i":33,"v":13},{"i":34,"v":10},{"i":35,"v":20},{"i":36,"v":40},{"i":37,"v":58},{"i":38,"v":66},{"i":39,"v":66},{"i":40,"v":62},{"i":41,"v":60},{"i":42,"v":64},{"i":43,"v":72},{"i":44,"v":82},{"i":45,"v":85},{"i":46,"v":68},{"i":47,"v":48},{"i":48,"v":32},{"i":49,"v":34},{"i":50,"v":42},{"i":51,"v":58},{"i":52,"v":68},{"i":53,"v":72},{"i":54,"v":62},{"i":55,"v":50},{"i":56,"v":40},{"i":57,"v":36},{"i":58,"v":40},{"i":59,"v":46},{"i":60,"v":55},{"i":61,"v":58},{"i":62,"v":58},{"i":63,"v":50},{"i":64,"v":45},{"i":65,"v":42},{"i":66,"v":40},{"i":67,"v":28},{"i":68,"v":18},{"i":69,"v":12},{"i":70,"v":12},{"i":71,"v":20},{"i":72,"v":30},{"i":73,"v":50},{"i":74,"v":64},{"i":75,"v":80},{"i":76,"v":88},{"i":77,"v":89},{"i":78,"v":80},{"i":79,"v":68},{"i":80,"v":58},{"i":81,"v":55},{"i":82,"v":62},{"i":83,"v":75},{"i":84,"v":82},{"i":85,"v":80},{"i":86,"v":60},{"i":87,"v":38},{"i":88,"v":25},{"i":89,"v":22},{"i":90,"v":28},{"i":91,"v":40},{"i":92,"v":45},{"i":93,"v":45},{"i":94,"v":38},{"i":95,"v":32},{"i":96,"v":30},{"i":97,"v":30},{"i":99,"v":29},{"i":100,"v":30},{"i":101,"v":38},{"i":102,"v":45},{"i":103,"v":52},{"i":104,"v":48},{"i":105,"v":40},{"i":106,"v":25},{"i":107,"v":32},{"i":108,"v":48},{"i":109,"v":70},{"i":110,"v":80},{"i":111,"v":72},{"i":112,"v":58},{"i":113,"v":44},{"i":114,"v":28},{"i":115,"v":18},{"i":116,"v":12},{"i":117,"v":25},{"i":118,"v":45},{"i":119,"v":62},{"i":120,"v":62},{"i":121,"v":55},{"i":122,"v":50},{"i":123,"v":48},{"i":124,"v":50},{"i":125,"v":49},{"i":126,"v":42},{"i":127,"v":38},{"i":128,"v":40},{"i":129,"v":46},{"i":130,"v":48},{"i":131,"v":46},{"i":132,"v":40},{"i":133,"v":32},{"i":134,"v":24},{"i":135,"v":20},{"i":136,"v":20},{"i":137,"v":30},{"i":138,"v":38},{"i":139,"v":52},{"i":140,"v":62},{"i":141,"v":66},{"i":142,"v":58},{"i":143,"v":48},{"i":144,"v":38},{"i":145,"v":32},{"i":146,"v":30},{"i":147,"v":32},{"i":148,"v":48},{"i":149,"v":68},{"i":150,"v":82},{"i":151,"v":80},{"i":152,"v":70},{"i":153,"v":58},{"i":154,"v":45},{"i":155,"v":38},{"i":156,"v":35},{"i":157,"v":33},{"i":158,"v":30},{"i":159,"v":32},{"i":160,"v":32.7309}
],
"stochLevels": [{"v": 80}, {"v": 20}, {"v": 0}]
},
"vconcat": [
{
"width": 644, "height": 52,
"view": {"stroke": null},
"layer": [
{"data": {"values": [{"t": "NPB"}]}, "mark": {"type": "text", "align": "left", "baseline": "alphabetic", "font": "Liberation Sans", "fontWeight": "bold", "fontSize": 48, "color": "#6b6c6e"},
 "encoding": {"x": {"datum": 6, "type": "quantitative", "scale": {"domain": [0, 644]}, "axis": null}, "y": {"datum": 44, "type": "quantitative", "scale": {"domain": [0, 52], "reverse": true}, "axis": null}, "text": {"field": "t"}}},
{"data": {"values": [{"t": "F"}]}, "mark": {"type": "text", "align": "left", "baseline": "alphabetic", "font": "Liberation Sans", "fontWeight": "bold", "fontSize": 46, "color": "#1fa37c"},
 "encoding": {"x": {"datum": 107, "type": "quantitative"}, "y": {"datum": 44, "type": "quantitative"}, "text": {"field": "t"}}},
{"data": {"values": [{"t": "X"}]}, "mark": {"type": "text", "align": "left", "baseline": "alphabetic", "font": "Liberation Sans", "fontWeight": "bold", "fontSize": 46, "color": "#f39325"},
 "encoding": {"x": {"datum": 130, "type": "quantitative"}, "y": {"datum": 44, "type": "quantitative"}, "text": {"field": "t"}}},
{"data": {"values": [{"t": "УСЛУГИ ДЛЯ ТРЕЙДЕРОВ С 1996 ГОДА"}]}, "mark": {"type": "text", "align": "left", "baseline": "alphabetic", "font": "DejaVu Sans Condensed, Liberation Sans Narrow, Roboto, sans-serif", "fontWeight": "bold", "fontSize": 7.8, "color": "#1a9a72"},
 "encoding": {"x": {"datum": 7, "type": "quantitative"}, "y": {"datum": 53, "type": "quantitative"}, "text": {"field": "t"}}}
]
},
{
"width": 644, "height": 304,
"layer": [
{"mark": {"type": "rule", "color": "#c4c4c4", "strokeWidth": 1},
 "encoding": {"y": {"datum": 103.733, "type": "quantitative"}}},
{"data": {"name": "candles"}, "mark": {"type": "rule", "color": "black", "strokeWidth": 1, "clip": true},
 "encoding": {"x": {"field": "i", "type": "quantitative", "scale": {"domain": [0, 162.7], "nice": false, "zero": false}, "axis": null},
  "y": {"field": "l", "type": "quantitative", "scale": {"domain": [102.425, 108.495], "nice": false, "zero": false},
   "axis": {"orient": "right", "values": [108.335, 107.675, 107.03, 106.385, 105.74, 105.08, 104.435, 103.13, 102.485], "tickCount": 30, "format": ".3f", "title": null, "grid": false, "domain": false, "tickSize": 3, "tickColor": "#222", "labelOverlap": false, "labelFont": "Liberation Sans", "labelFontSize": 9, "labelColor": "#222", "labelPadding": 1}},
  "y2": {"field": "h"}}},
{"data": {"name": "candles"}, "mark": {"type": "bar", "size": 2.6, "stroke": "black", "strokeWidth": 0.8, "clip": true},
 "encoding": {"x": {"field": "i", "type": "quantitative"}, "y": {"field": "o", "type": "quantitative"}, "y2": {"field": "c"},
  "fill": {"condition": {"test": "datum.c >= datum.o", "value": "white"}, "value": "black"}}},
{"data": {"name": "bands"}, "mark": {"type": "line", "color": "#1a1abf", "strokeWidth": 2, "clip": true},
 "encoding": {"x": {"field": "i", "type": "quantitative"}, "y": {"field": "p", "type": "quantitative"}, "detail": {"field": "b"}}},
{"data": {"values": [{"t": "binaryclub.guru"}]}, "mark": {"type": "text", "font": "Liberation Sans", "fontWeight": "bold", "fontSize": 31, "color": "#5f82d8", "opacity": 0.85, "angle": 4, "align": "center", "baseline": "middle"},
 "encoding": {"x": {"datum": 84, "type": "quantitative"}, "y": {"datum": 104.08, "type": "quantitative"}, "text": {"field": "t"}}},
{"data": {"values": [{"t": "▼ USDJPY,Daily  103.695 103.878 103.695 103.733"}]}, "mark": {"type": "text", "font": "Liberation Sans", "fontSize": 9, "color": "black", "align": "left", "baseline": "middle"},
 "encoding": {"x": {"datum": 0.6, "type": "quantitative"}, "y": {"datum": 108.333, "type": "quantitative"}, "text": {"field": "t"}}},
{"data": {"values": [{"t": "103.733"}]}, "mark": {"type": "rect", "color": "black", "clip": false},
 "encoding": {"x": {"datum": 163.0, "type": "quantitative"}, "x2": {"datum": 173.8}, "y": {"datum": 103.855, "type": "quantitative"}, "y2": {"datum": 103.611}}},
{"data": {"values": [{"t": "103.733"}]}, "mark": {"type": "text", "font": "Liberation Sans", "fontSize": 9, "color": "white", "align": "left", "baseline": "middle", "clip": false},
 "encoding": {"x": {"datum": 163.5, "type": "quantitative"}, "y": {"datum": 103.733, "type": "quantitative"}, "text": {"field": "t"}}}
]
},
{
"spacing": 4,
"bounds": "flush",
"vconcat": [
{
"width": 644, "height": 83,
"layer": [
{"data": {"name": "macd"}, "mark": {"type": "bar", "size": 3, "color": "#1010d4"},
 "encoding": {"x": {"field": "i", "type": "quantitative", "scale": {"domain": [0, 162.7], "nice": false, "zero": false}, "axis": null},
  "y": {"field": "v", "type": "quantitative", "scale": {"domain": [-1.5678, 0.1803], "nice": false, "zero": false},
   "axis": {"orient": "right", "values": [0.1803, 0, -1.5678], "tickCount": 10, "labelExpr": "datum.value == 0 ? '0.00' : format(datum.value, '.4f')", "title": null, "grid": false, "domain": false, "ticks": false, "labelOverlap": false, "labelFont": "Liberation Sans", "labelFontSize": 9, "labelColor": "#222", "labelPadding": 3,
    "labelBaseline": {"condition": [{"test": "datum.value > 0.1", "value": "top"}, {"test": "datum.value < -1", "value": "bottom"}], "value": "middle"}}},
  "y2": {"datum": 0}}},
{"data": {"name": "signal"}, "mark": {"type": "line", "color": "#e02020", "strokeWidth": 1, "strokeDash": [2, 2]},
 "encoding": {"x": {"field": "i", "type": "quantitative"}, "y": {"field": "s", "type": "quantitative"}}},
{"data": {"values": [{"t": "MACD(5,34,4) -0.0655 -0.0888"}]}, "mark": {"type": "text", "font": "Liberation Sans", "fontSize": 9, "color": "black", "align": "left", "baseline": "middle"},
 "encoding": {"x": {"datum": 1.0, "type": "quantitative"}, "y": {"datum": -0.01, "type": "quantitative"}, "text": {"field": "t"}}}
]
},
{
"width": 644, "height": 83,
"layer": [
{"mark": {"type": "rule", "color": "#e02020", "strokeWidth": 1, "strokeDash": [9, 5]},
 "encoding": {"y": {"datum": 80, "type": "quantitative"}}},
{"mark": {"type": "rule", "color": "#e02020", "strokeWidth": 1, "strokeDash": [9, 5]},
 "encoding": {"y": {"datum": 20, "type": "quantitative"}}},
{"data": {"name": "stochD"}, "mark": {"type": "line", "color": "#e02020", "strokeWidth": 1, "strokeDash": [2, 2]},
 "encoding": {"x": {"field": "i", "type": "quantitative", "scale": {"domain": [0, 162.7], "nice": false, "zero": false},
  "axis": {"values": [0, 16, 32, 48, 64, 80, 96, 112, 128, 144, 160], "tickCount": 30, "labelExpr": "['12 Jun 2020','6 Jul 2020','28 Jul 2020','19 Aug 2020','10 Sep 2020','2 Oct 2020','25 Oct 2020','16 Nov 2020','8 Dec 2020','31 Dec 2020','25 Jan 2021'][round(datum.value/16)]", "title": null, "grid": false, "domain": false, "tickSize": 4, "tickColor": "#222", "labelAlign": "left", "labelOffset": -2, "labelPadding": 2, "labelFlush": false, "labelOverlap": false, "labelBound": false, "labelFont": "Liberation Sans", "labelFontSize": 9, "labelColor": "#222"}},
  "y": {"field": "v", "type": "quantitative", "scale": {"domain": [0, 100], "nice": false},
   "axis": {"orient": "right", "values": [80, 20], "tickCount": 10, "title": null, "grid": false, "domain": false, "tickSize": 4, "tickColor": "#e02020", "labels": false}}}},
{"data": {"name": "stochK"}, "mark": {"type": "line", "color": "#0a0ad0", "strokeWidth": 2},
 "encoding": {"x": {"field": "i", "type": "quantitative"}, "y": {"field": "v", "type": "quantitative"}}},
{"data": {"values": [{"t": "Stoch(5,3,3) 43.9894 32.7309"}]}, "mark": {"type": "text", "font": "Liberation Sans", "fontSize": 9, "color": "black", "align": "left", "baseline": "middle"},
 "encoding": {"x": {"datum": 1.0, "type": "quantitative"}, "y": {"datum": 90, "type": "quantitative"}, "text": {"field": "t"}}},
{"data": {"values": [{"t": "100"}]}, "mark": {"type": "text", "font": "Liberation Sans", "fontSize": 9, "color": "#222", "align": "left", "baseline": "top", "dy": 1, "clip": false},
 "encoding": {"x": {"datum": 164.0, "type": "quantitative"}, "y": {"datum": 100, "type": "quantitative"}, "text": {"field": "t"}}},
{"data": {"name": "stochLevels"}, "transform": [{"filter": "datum.v == 80 || datum.v == 20"}], "mark": {"type": "text", "font": "Liberation Sans", "fontSize": 9, "color": "#222", "align": "left", "baseline": "middle", "clip": false},
 "encoding": {"x": {"datum": 164.0, "type": "quantitative"}, "y": {"field": "v", "type": "quantitative"}, "text": {"field": "v"}}},
{"data": {"name": "stochLevels"}, "transform": [{"filter": "datum.v == 0"}], "mark": {"type": "text", "font": "Liberation Sans", "fontSize": 9, "color": "#222", "align": "left", "baseline": "bottom", "clip": false},
 "encoding": {"x": {"datum": 164.0, "type": "quantitative"}, "y": {"field": "v", "type": "quantitative"}, "text": {"field": "v"}}}
]
}
]
}
],
"spacing": 2
}
